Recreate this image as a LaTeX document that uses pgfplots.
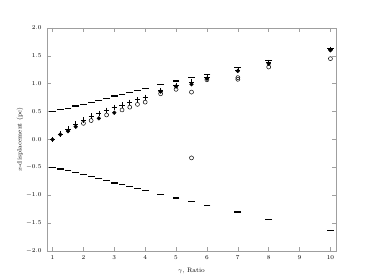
\documentclass[border=0pt]{standalone}
\usepackage{pgfplots}
\pgfplotsset{compat=1.18}
\begin{document}
\begin{tikzpicture}
\begin{axis}[
  at={(0,0)}, anchor=south west,
  scale only axis, width=289pt, height=223pt,
  xmin=0.82, xmax=10.18, ymin=-2, ymax=2,
  xtick={1,2,...,10},
  ytick={-2,-1.5,...,2},
  yticklabel style={/pgf/number format/fixed,/pgf/number format/fixed zerofill,/pgf/number format/precision=1,xshift=-2pt},
  xticklabel style={yshift=-1pt},
  tick label style={font=\fontsize{6.3}{7}\selectfont},
  label style={font=\fontsize{6.5}{7.5}\selectfont},
  axis line style={gray!75, line width=0.8pt},
  tick style={gray!75, line width=0.5pt},
  major tick length=4pt,
  tick align=inside,
  xlabel={$\gamma$, Ratio},
  ylabel={$x$-displacement (pc)},
  x label style={at={(axis description cs:0.5,-0.0883)},anchor=center},
  y label style={at={(axis description cs:-0.0934,0.5)},anchor=center,rotate=0},
  clip=false,
]
% upper/lower limits (dash markers)
\addplot[only marks, mark=-, mark size=3.4pt, line width=1.1pt, black] coordinates {
 (1,0.50) (1.25,0.53) (1.5,0.56) (1.75,0.60) (2,0.63) (2.25,0.67) (2.5,0.70) (2.75,0.74)
 (3,0.78) (3.25,0.81) (3.5,0.85) (3.75,0.88) (4,0.92) (4.5,0.98) (5,1.05) (5.5,1.11)
 (6,1.17) (7,1.29) (8,1.41) (10,1.64)};
\addplot[only marks, mark=-, mark size=3.4pt, line width=1.1pt, black] coordinates {
 (1,-0.50) (1.25,-0.53) (1.5,-0.56) (1.75,-0.60) (2,-0.63) (2.25,-0.67) (2.5,-0.70) (2.75,-0.74)
 (3,-0.78) (3.25,-0.81) (3.5,-0.85) (3.75,-0.88) (4,-0.92) (4.5,-0.985) (5,-1.05) (5.5,-1.11)
 (6,-1.18) (7,-1.30) (8,-1.43) (10,-1.64)};
% plus markers
\addplot[only marks, mark=+, mark size=2.6pt, line width=0.6pt, black] coordinates {
 (1,0.0) (1.25,0.10) (1.5,0.19) (1.75,0.28) (2,0.35) (2.25,0.42) (2.5,0.47) (2.75,0.525)
 (3,0.58) (3.25,0.62) (3.5,0.67) (3.75,0.72) (4,0.76) (4.5,0.88) (5,0.97) (5.5,1.03)
 (6,1.11) (7,1.25) (8,1.38) (10,1.62)};
% open circles
\addplot[only marks, mark=o, mark size=2pt, line width=0.5pt, black] coordinates {
 (2,0.29) (2.25,0.34) (2.75,0.44) (3.25,0.53) (3.5,0.58) (3.75,0.63) (4,0.67)
 (4.5,0.82) (5,0.90) (5.5,0.85) (5.5,-0.33) (6,1.07) (7,1.11) (7,1.08) (8,1.30) (10,1.45)};
% filled circles
\addplot[only marks, mark=*, mark size=1.9pt, black] coordinates {
 (1,0.0) (1.25,0.09) (1.5,0.15) (1.75,0.23) (2.5,0.38) (3,0.48)
 (4.5,0.86) (5,0.95) (5.5,0.99) (6,1.09) (7,1.23) (8,1.36) (10,1.60)};
\end{axis}
\path[use as bounding box] (-47pt,-29pt) rectangle (327pt,251pt);
\end{tikzpicture}
\end{document}
